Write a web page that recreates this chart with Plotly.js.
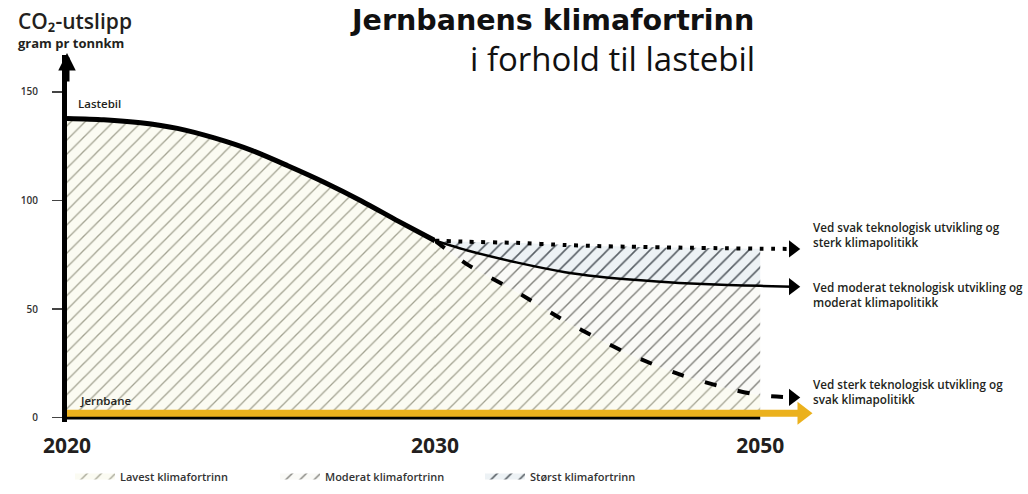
<!DOCTYPE html>
<html>
<head>
<meta charset="utf-8">
<script src="https://cdn.plot.ly/plotly-3.0.1.min.js"></script>
<style>html,body{margin:0;padding:0;background:#fff;}#chart{width:1028px;height:494px;}</style>
</head>
<body>
<div id="chart"></div>
<script>
// ---- Data ----
// 2020-2030: lastebil (truck) emissions, g CO2 per tonnkm
const yearsA = [2020, 2021, 2022, 2023, 2024, 2025, 2026, 2027, 2028, 2029, 2030];
const lastebil = [137.8, 137.2, 135.8, 133.2, 128.8, 123.2, 116, 108.3, 99.8, 90.5, 81.5];

// 2030-2052: three scenarios for lastebil
const yearsB = [2030, 2032, 2035, 2038, 2040, 2042, 2045, 2048, 2050, 2052];
const svakTekn = [81.5, 81, 80.5, 79.5, 79, 78.7, 78.3, 78, 77.8, 77.7];      // dotted
const moderatTekn = [81.5, 77, 71.5, 67, 65, 63.6, 62, 61.1, 60.7, 60.3];     // solid
const sterkTekn = [81.5, 70.5, 58, 44.5, 36.5, 29, 20, 13.5, 10.3, 9.3];      // dashed
const hatchEndYear = 2050;

// Jernbane (rail)
const jernbaneYearsA = [2020, 2030];
const jernbaneA = [2, 2];
const jernbaneYearsB = [2030, 2052.6];
const jernbaneB = [2, 2];

// Baseline (x axis line)
const baseYearsA = [2020, 2030];
const baseA = [0, 0];
const baseYearsB = [2030, 2050];
const baseB = [0, 0];

// Tick labels
const yTicks = [0, 50, 100, 150];
const xTicksA = [2020];
const xTicksB = [2030, 2050];

const legendNames = ['Lavest klimafortrinn', 'Moderat klimafortrinn', 'Størst klimafortrinn'];
const scenarioLabels = [
  'Ved svak teknologisk utvikling og<br>sterk klimapolitikk',
  'Ved moderat teknologisk utvikling og<br>moderat klimapolitikk',
  'Ved sterk teknologisk utvikling og<br>svak klimapolitikk'
];

// ---- Styles ----
const FONT = '"Open Sans", Lato, sans-serif';
const TITLEFONT = '"DejaVu Sans", "Open Sans", sans-serif';
const TXT = '#231f20';
const YELLOW = '#ebb11d';
const patLavest = {shape: '/', fgcolor: '#a3a392', bgcolor: '#fbfbf2', size: 10, solidity: 0.13};
const patModerat = {shape: '/', fgcolor: '#80807a', bgcolor: '#fafaf7', size: 10, solidity: 0.14};
const patStorst = {shape: '/', fgcolor: '#596066', bgcolor: '#edf2f5', size: 10, solidity: 0.16};

const iEnd = yearsB.indexOf(hatchEndYear) + 1;
const fillX = yearsB.slice(0, iEnd);
const last = a => a[a.length - 1];

const traces = [
  // segment 1 fill + line
  {x: yearsA, y: lastebil, xaxis: 'x', yaxis: 'y', mode: 'lines', fill: 'tozeroy',
   fillpattern: patLavest, fillcolor: 'rgba(0,0,0,0)',
   line: {color: '#000', width: 5, shape: 'spline', smoothing: 0.8}, showlegend: false, hoverinfo: 'skip'},
  // segment 2 fills
  {x: fillX, y: sterkTekn.slice(0, iEnd), xaxis: 'x2', yaxis: 'y', mode: 'none', fill: 'tozeroy',
   fillpattern: patLavest, fillcolor: 'rgba(0,0,0,0)', line: {shape: 'spline', smoothing: 0.6},
   name: legendNames[0], showlegend: true, hoverinfo: 'skip'},
  {x: fillX, y: moderatTekn.slice(0, iEnd), xaxis: 'x2', yaxis: 'y', mode: 'none', fill: 'tonexty',
   fillpattern: patModerat, fillcolor: 'rgba(0,0,0,0)', line: {shape: 'spline', smoothing: 0.6},
   name: legendNames[1], showlegend: true, hoverinfo: 'skip'},
  {x: fillX, y: svakTekn.slice(0, iEnd), xaxis: 'x2', yaxis: 'y', mode: 'none', fill: 'tonexty',
   fillpattern: patStorst, fillcolor: 'rgba(0,0,0,0)', line: {shape: 'spline', smoothing: 0.6},
   name: legendNames[2], showlegend: true, hoverinfo: 'skip'},
  // baseline
  {x: baseYearsA, y: baseA, xaxis: 'x', yaxis: 'y', mode: 'lines', line: {color: '#000', width: 3.5}, showlegend: false, hoverinfo: 'skip'},
  {x: baseYearsB, y: baseB, xaxis: 'x2', yaxis: 'y', mode: 'lines', line: {color: '#000', width: 3.5}, showlegend: false, hoverinfo: 'skip'},
  // jernbane
  {x: jernbaneYearsA, y: jernbaneA, xaxis: 'x', yaxis: 'y', mode: 'lines', line: {color: YELLOW, width: 7}, showlegend: false, hoverinfo: 'skip'},
  {x: jernbaneYearsB, y: jernbaneB, xaxis: 'x2', yaxis: 'y', mode: 'lines', line: {color: YELLOW, width: 7}, showlegend: false, hoverinfo: 'skip'},
  {x: [last(jernbaneYearsB)], y: [last(jernbaneB)], xaxis: 'x2', yaxis: 'y', mode: 'markers', cliponaxis: false,
   marker: {symbol: 'triangle-right', size: 20, color: YELLOW}, showlegend: false, hoverinfo: 'skip'},
  // scenario lines
  {x: yearsB, y: svakTekn, xaxis: 'x2', yaxis: 'y', mode: 'lines',
   line: {color: '#000', width: 4, dash: '4px,7.6px', shape: 'spline', smoothing: 0.6}, showlegend: false, hoverinfo: 'skip'},
  {x: yearsB, y: moderatTekn, xaxis: 'x2', yaxis: 'y', mode: 'lines',
   line: {color: '#000', width: 2.5, shape: 'spline', smoothing: 0.6}, showlegend: false, hoverinfo: 'skip'},
  {x: yearsB, y: sterkTekn, xaxis: 'x2', yaxis: 'y', mode: 'lines',
   line: {color: '#000', width: 4, dash: '12px,22px', shape: 'spline', smoothing: 0.6}, showlegend: false, hoverinfo: 'skip'},
  // arrow heads
  {x: [last(yearsB), last(yearsB), last(yearsB)], y: [last(svakTekn), last(moderatTekn), last(sterkTekn)],
   xaxis: 'x2', yaxis: 'y', mode: 'markers', cliponaxis: false,
   marker: {symbol: 'triangle-right', size: 15, color: '#000'}, showlegend: false, hoverinfo: 'skip'}
];

const plotL = 67, plotR = 809, plotT = 55, plotB = 422;
const plotH = plotB - plotT, plotW = plotR - plotL;
const split = (435 - plotL) / plotW;
const px = v => (v - plotL) / plotW;
const py = v => (plotB - v) / plotH;

const xTickFont = {family: FONT, size: 21, color: TXT, weight: 700};
const labelFont = {family: FONT, size: 11.7, color: TXT, weight: 600};

const layout = {
  width: 1028, height: 494,
  margin: {l: plotL, r: 1028 - plotR, t: plotT, b: 494 - plotB, autoexpand: false},
  paper_bgcolor: '#fff', plot_bgcolor: 'rgba(0,0,0,0)',
  font: {family: FONT, color: TXT},
  showlegend: true,
  legend: {orientation: 'h', traceorder: 'normal', x: px(70), xanchor: 'left', y: py(462), yanchor: 'top',
           entrywidth: 150, entrywidthmode: 'pixels', itemwidth: 40,
           font: {family: FONT, size: 11, color: '#333', weight: 600}, bgcolor: 'rgba(0,0,0,0)'},
  xaxis: {domain: [0, split], range: [2020, 2030], anchor: 'y', showgrid: false, zeroline: false,
          showline: false, tickmode: 'array', tickvals: xTicksA, ticktext: xTicksA.map(String),
          ticks: '', tickfont: xTickFont, ticklabelstandoff: 9},
  xaxis2: {domain: [split, 1], range: [2030, 2053], anchor: 'y', showgrid: false, zeroline: false,
           showline: false, tickmode: 'array', tickvals: xTicksB, ticktext: xTicksB.map(String),
           ticks: '', tickfont: xTickFont, ticklabelstandoff: 9},
  yaxis: {range: [-2, 167], showgrid: false, zeroline: false, showline: true, linecolor: '#000', linewidth: 5,
          tickmode: 'array', tickvals: yTicks, ticks: 'outside', ticklen: 10, tickwidth: 1.2, tickcolor: '#444',
          tickfont: {family: FONT, size: 10, color: '#333', weight: 600}, ticklabelstandoff: 12},
  annotations: [
    // y axis arrow head
    {xref: 'paper', yref: 'paper', x: 0, y: 1, ax: 0, ay: 30, text: '', showarrow: true,
     arrowhead: 2, arrowsize: 0.7, arrowwidth: 5, arrowcolor: '#000', yshift: 2},
    // titles
    {xref: 'paper', yref: 'paper', x: px(756), y: py(21), xanchor: 'right', yanchor: 'middle',
     text: 'Jernbanens klimafortrinn', showarrow: false, font: {family: TITLEFONT, size: 28.5, color: '#111', weight: 700}},
    {xref: 'paper', yref: 'paper', x: px(757), y: py(58), xanchor: 'right', yanchor: 'middle',
     text: 'i forhold til lastebil', showarrow: false, font: {family: FONT, size: 33, color: '#111', weight: 400}},
    {xref: 'paper', yref: 'paper', x: px(16), y: py(21), xanchor: 'left', yanchor: 'middle',
     text: 'CO₂-utslipp', showarrow: false, font: {family: FONT, size: 21, color: TXT, weight: 600}},
    {xref: 'paper', yref: 'paper', x: px(16), y: py(43), xanchor: 'left', yanchor: 'middle',
     text: 'gram pr tonnkm', showarrow: false, font: {family: FONT, size: 13, color: TXT, weight: 700}},
    // series labels
    {xref: 'x', yref: 'y', x: yearsA[0], y: lastebil[0], xanchor: 'left', yanchor: 'middle', xshift: 9, yshift: 15,
     text: 'Lastebil', showarrow: false, font: {family: FONT, size: 11.5, color: TXT, weight: 600}},
    {xref: 'x', yref: 'y', x: jernbaneYearsA[0], y: jernbaneA[0], xanchor: 'left', yanchor: 'middle', xshift: 11, yshift: 13,
     text: 'Jernbane', showarrow: false, font: {family: FONT, size: 11.5, color: TXT, weight: 600}},
    // scenario labels
    {xref: 'x2', yref: 'y', x: last(yearsB), y: last(svakTekn), xanchor: 'left', yanchor: 'middle', xshift: 18, yshift: 14, align: 'left',
     text: scenarioLabels[0], showarrow: false, font: labelFont},
    {xref: 'x2', yref: 'y', x: last(yearsB), y: last(moderatTekn), xanchor: 'left', yanchor: 'middle', xshift: 18, yshift: -8, align: 'left',
     text: scenarioLabels[1], showarrow: false, font: labelFont},
    {xref: 'x2', yref: 'y', x: last(yearsB), y: last(sterkTekn), xanchor: 'left', yanchor: 'middle', xshift: 18, yshift: 6, align: 'left',
     text: scenarioLabels[2], showarrow: false, font: labelFont}
  ]
};

Plotly.newPlot('chart', traces, layout, {displayModeBar: false, staticPlot: true});
</script>
</body>
</html>
